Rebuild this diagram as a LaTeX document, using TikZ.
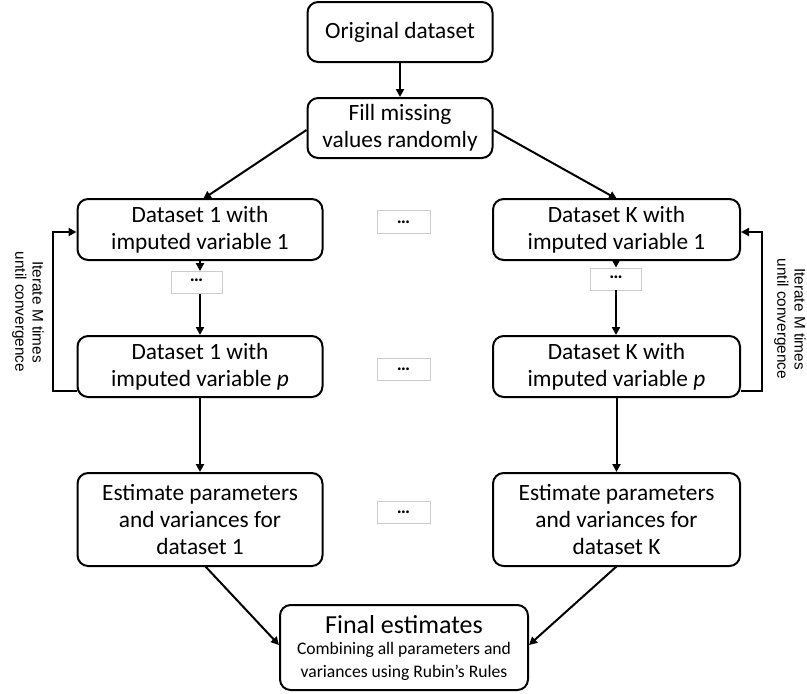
\documentclass[tikz,border=0pt]{standalone}
\usepackage{fontspec}
\setmainfont{Carlito}
\newfontfamily\sidefont{Liberation Sans}
\usetikzlibrary{arrows.meta}
\begin{document}
\begin{tikzpicture}[x=0.75pt,y=-0.75pt,
  box/.style={draw,line width=1.5pt,rounded corners=8pt,align=center,inner sep=0pt,font=\fontsize{17.5}{20}\selectfont},
  dotbox/.style={draw=black!20,line width=0.6pt,inner sep=0pt,font=\fontsize{14}{14}\selectfont\bfseries},
  arr/.style={line width=1.5pt,-{Triangle[length=6pt,width=6pt]}},
  side/.style={font=\sidefont\fontsize{11.5}{13}\selectfont,align=center,rotate=-90}]
\useasboundingbox (0,0) rectangle (807,693);
\node[box,minimum width=185*0.75pt,minimum height=60*0.75pt] (orig) at (400,32) {Original dataset};
\node[box,minimum width=185*0.75pt,minimum height=60*0.75pt] (fill) at (400,128) {Fill missing\\values randomly};
\node[box,minimum width=245*0.75pt,minimum height=61*0.75pt] (d1a) at (200,229.5) {Dataset 1 with\\imputed variable 1};
\node[box,minimum width=247*0.75pt,minimum height=61*0.75pt] (dka) at (616.5,229.5) {Dataset K with\\imputed variable 1};
\node[box,minimum width=245*0.75pt,minimum height=61*0.75pt] (d1p) at (200,366.5) {Dataset 1 with\\imputed variable \textit{p}};
\node[box,minimum width=247*0.75pt,minimum height=61*0.75pt] (dkp) at (616.5,366.5) {Dataset K with\\imputed variable \textit{p}};
\node[box,minimum width=245*0.75pt,minimum height=93*0.75pt] (e1) at (200,519.5) {Estimate parameters\\and variances for\\dataset 1};
\node[box,minimum width=247*0.75pt,minimum height=93*0.75pt] (ek) at (616.5,519.5) {Estimate parameters\\and variances for\\dataset K};
\node[box,minimum width=248*0.75pt,minimum height=85*0.75pt] (fin) at (404,647.5) {{\fontsize{19.5}{21}\selectfont Final estimates}\\[-4pt]{\fontsize{13.2}{15}\selectfont Combining all parameters and}\\[-3pt]{\fontsize{13.2}{15}\selectfont variances using Rubin’s Rules}};
\node[dotbox,minimum width=51*0.75pt,minimum height=22*0.75pt] (dots1) at (196.5,282.5) {\raisebox{3pt}{…}};
\node[dotbox,minimum width=51*0.75pt,minimum height=22*0.75pt] (dotsk) at (616,279) {\raisebox{3pt}{…}};
\node[dotbox,minimum width=53*0.75pt,minimum height=23*0.75pt] (m1) at (403.5,221.5) {\raisebox{-3pt}{…}};
\node[dotbox,minimum width=53*0.75pt,minimum height=22*0.75pt] (m2) at (403.5,369) {\raisebox{-3pt}{…}};
\node[dotbox,minimum width=53*0.75pt,minimum height=22*0.75pt] (m3) at (403.5,512) {\raisebox{-3pt}{…}};
\coordinate (lf) at (53,0);
\coordinate (rf) at (762,0);
\draw[arr] (orig) -- (fill);
\draw[arr] (fill.west |- 0,130) -- (203,199);
\draw[arr] (fill.east |- 0,130) -- (617,199);
\draw[arr] (200,260) -- (dots1.north -| 200,0);
\draw[arr] (dots1.south -| 200,0) -- (d1p.north);
\draw[arr] (616,260) -- (dotsk.north);
\draw[arr] (dotsk.south) -- (dkp.north -| 616,0);
\draw[arr] (d1p) -- (e1);
\draw[arr] (dkp) -- (ek);
\draw[arr] (205,566) -- (fin.west |- 0,645);
\draw[arr] (617,566) -- (fin.east |- 0,645);
\draw[arr] (d1p.west |- 0,391) -| (lf |- 0,391) |- (d1a.west |- 0,232);
\draw[arr] (dkp.east |- 0,391) -| (rf |- 0,391) |- (dka.east |- 0,232);
\node[side] (ll) at (28,312) {Iterate M times\\until convergence};
\node[side] (rl) at (790,319) {Iterate M times\\until convergence};
\end{tikzpicture}
\end{document}
